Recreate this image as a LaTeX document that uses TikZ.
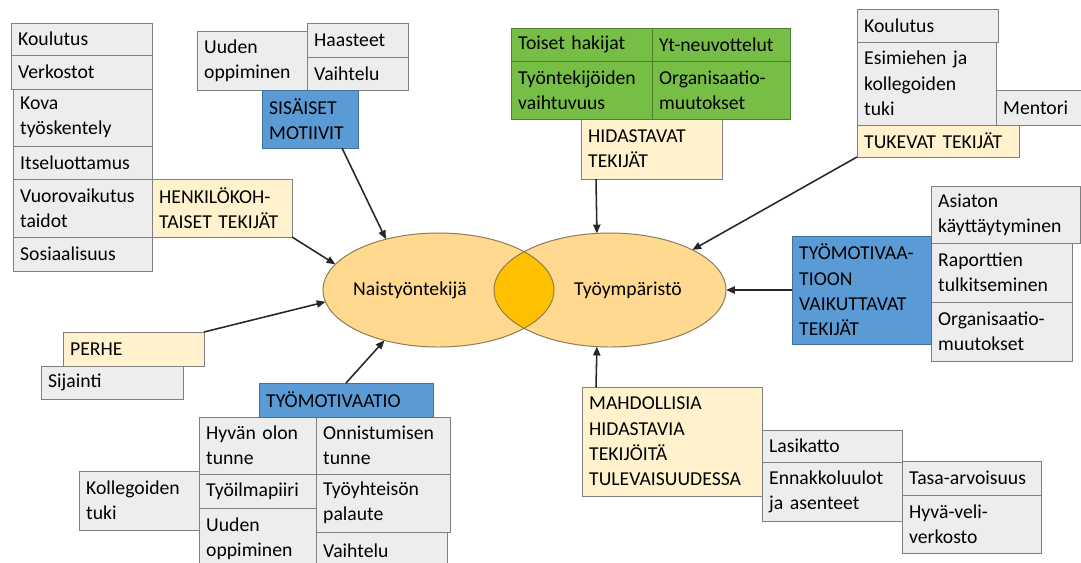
\documentclass[tikz,border=0pt]{standalone}
\usepackage{fontspec}
\setmainfont{Carlito}
\definecolor{harmaaTausta}{HTML}{EDEDED}
\definecolor{reunaHarmaa}{HTML}{7F7F7F}
\definecolor{keltaTausta}{HTML}{FFF2CC}
\definecolor{siniTausta}{HTML}{5B9BD5}
\definecolor{siniReuna}{HTML}{41719C}
\definecolor{vihreaTausta}{HTML}{76BE45}
\definecolor{vihreaReuna}{HTML}{4E7F2E}
\definecolor{soikioTausta}{HTML}{FFD98F}
\definecolor{soikioViiva}{HTML}{8C7B55}
\definecolor{linssiTausta}{HTML}{FFC000}
\usetikzlibrary{
	arrows.meta,
	shapes.geometric
}
\tikzset{
	laatikko/.style={
		anchor=north west,
		align=left,
		inner xsep=0.18cm,
		inner ysep=0.08cm,
		outer sep=0pt,
		line width=0.6pt,
		font=\fontsize{14}{18}\selectfont
	},
	harmaaLaatikko/.style={
		laatikko,
		draw=reunaHarmaa,
		fill=harmaaTausta
	},
	keltaLaatikko/.style={
		laatikko,
		draw=reunaHarmaa,
		fill=keltaTausta
	},
	siniLaatikko/.style={
		laatikko,
		draw=siniReuna,
		fill=siniTausta
	},
	vihreaLaatikko/.style={
		laatikko,
		draw=vihreaReuna,
		fill=vihreaTausta
	},
	soikio/.style={
		ellipse,
		fill=soikioTausta,
		inner sep=0pt,
		outer sep=0pt
	},
	soikioReuna/.style={
		draw=soikioViiva,
		line width=0.7pt
	},
	soikioTeksti/.style={
		font=\fontsize{14}{18}\selectfont
	},
	nuoli/.style={
		-{Triangle[length=2.2mm,width=1.8mm]},
		line width=1.1pt,
		draw=black!85
	}
}

\begin{document}
\begin{tikzpicture}[x=0.025cm, y=-0.025cm]
		\useasboundingbox (0,0) rectangle (1081,562);
		\clip (0,0) rectangle (1081,562);
		% soikiot
		\node[soikio, minimum width=5.775cm, minimum height=2.85cm] (nainen) at (438.5,290) {};
		\node[soikio, minimum width=5.8cm, minimum height=2.85cm] (tyoymp) at (610,290) {};
		\begin{scope}
			\clip (nainen.center) ellipse [x radius=115.5, y radius=57];
			\fill[linssiTausta] (tyoymp.center) ellipse [x radius=116, y radius=57];
		\end{scope}
		\draw[soikioReuna] (nainen.center) ellipse [x radius=115.5, y radius=57];
		\draw[soikioReuna] (tyoymp.center) ellipse [x radius=116, y radius=57];
		\node[soikioTeksti] (naisTeksti) at (410,290) {Naistyöntekijä};
		\node[soikioTeksti] (ympTeksti) at (628,290) {Työympäristö};
		% harmaat laatikot
		\foreach \nimi/\xa/\ya/\xb/\yb/\teksti in {
			koulutusV/11/23/152/55/{Koulutus},
			verkostot/11/55/152/89/{Verkostot},
			kova/13/89/152/146/{Kova\\työskentely},
			itseluottamus/13/146/152/179/{Itseluottamus},
			vuorovaikutus/13/179/152/237/{Vuorovaikutus\\taidot},
			sosiaalisuus/13/237/152/271/{Sosiaalisuus},
			uudenY/197/31/307/90/{Uuden\\oppiminen},
			haasteet/307/23/408/57/{Haasteet},
			vaihteluY/307/57/408/90/{Vaihtelu},
			koulutusO/857/9/998/42/{Koulutus},
			esimies/857/42/996/125/{Esimiehen ja\\kollegoiden\\tuki},
			mentori/996/90/1082/125/{Mentori},
			asiaton/931/186/1080/243/{Asiaton\\käyttäytyminen},
			raportit/931/243/1072/302/{Raporttien\\tulkitseminen},
			organisB/931/302/1072/361/{Organisaatio-\\muutokset},
			sijainti/41/366/183/399/{Sijainti},
			hyvanOlon/199/417/316/474/{Hyvän olon\\tunne},
			onnistuminen/316/417/450/474/{Onnistumisen\\tunne},
			ilmapiiri/199/474/316/508/{Työilmapiiri},
			uudenA/199/508/316/570/{Uuden\\oppiminen},
			palaute/316/474/450/532/{Työyhteisön\\palaute},
			vaihteluA/316/532/447/570/{Vaihtelu},
			kollegat/79/471/199/530/{Kollegoiden\\tuki},
			lasikatto/762/430/902/462/{Lasikatto},
			ennakko/762/462/902/521/{Ennakkoluulot\\ja asenteet},
			tasa/902/461/1041/495/{Tasa-arvoisuus},
			hyvaVeli/902/495/1041/553/{Hyvä-veli-\\verkosto}}{
			\pgfmathsetmacro\lev{(\xb-\xa)*0.025}
			\pgfmathsetmacro\kor{(\yb-\ya)*0.025}
			\pgfmathsetmacro\tlev{\lev-0.36}
			\node[harmaaLaatikko, minimum width=\lev cm, minimum height=\kor cm, text width=\tlev cm] (\nimi) at (\xa,\ya) {\teksti};
		}
		% keltaiset laatikot
		\foreach \nimi/\xa/\ya/\xb/\yb/\teksti in {
			henkilo/152/179/292/237/{HENKILÖKOH-\\TAISET TEKIJÄT},
			hidastavat/581/119/722/179/{HIDASTAVAT\\TEKIJÄT},
			tukevat/857/125/1019/157/{TUKEVAT TEKIJÄT},
			perhe/63/332/204/366/{PERHE},
			mahdollisia/582/387/762/496/{MAHDOLLISIA\\HIDASTAVIA\\TEKIJÖITÄ\\TULEVAISUUDESSA}}{
			\pgfmathsetmacro\lev{(\xb-\xa)*0.025}
			\pgfmathsetmacro\kor{(\yb-\ya)*0.025}
			\pgfmathsetmacro\tlev{\lev-0.36}
			\node[keltaLaatikko, minimum width=\lev cm, minimum height=\kor cm, text width=\tlev cm] (\nimi) at (\xa,\ya) {\teksti};
		}
		% siniset laatikot
		\foreach \nimi/\xa/\ya/\xb/\yb/\teksti in {
			sisaiset/262/90/358/148/{SISÄISET\\MOTIIVIT},
			vaikuttavat/792/236/931/344/{TYÖMOTIVAA-\\TIOON\\VAIKUTTAVAT\\TEKIJÄT},
			tyomotivaatio/259/383/433/417/{TYÖMOTIVAATIO}}{
			\pgfmathsetmacro\lev{(\xb-\xa)*0.025}
			\pgfmathsetmacro\kor{(\yb-\ya)*0.025}
			\pgfmathsetmacro\tlev{\lev-0.36}
			\node[siniLaatikko, minimum width=\lev cm, minimum height=\kor cm, text width=\tlev cm] (\nimi) at (\xa,\ya) {\teksti};
		}
		% vihreat laatikot
		\foreach \nimi/\xa/\ya/\xb/\yb/\teksti in {
			toiset/511/28/652/61/{Toiset hakijat},
			ytNeuvottelut/652/28/790/61/{Yt-neuvottelut},
			vaihtuvuus/511/61/652/119/{Työntekijöiden\\vaihtuvuus},
			organisA/652/61/790/119/{Organisaatio-\\muutokset}}{
			\pgfmathsetmacro\lev{(\xb-\xa)*0.025}
			\pgfmathsetmacro\kor{(\yb-\ya)*0.025}
			\pgfmathsetmacro\tlev{\lev-0.36}
			\node[vihreaLaatikko, minimum width=\lev cm, minimum height=\kor cm, text width=\tlev cm] (\nimi) at (\xa,\ya) {\teksti};
		}
		% nuolet
		\draw[nuoli] (henkilo.south east) -- (nainen.166);
		\draw[nuoli] ([xshift=-0.4cm]sisaiset.south east) -- (nainen.136);
		\draw[nuoli] (perhe.north east) -- (nainen.186);
		\draw[nuoli] (tyomotivaatio.north) -- (nainen.223);
		\draw[nuoli] ([xshift=0.375cm]hidastavat.south west) -- (tyoymp.103);
		\draw[nuoli] (tukevat.south west) -- (tyoymp.26);
		\draw[nuoli] (vaikuttavat.west) -- (tyoymp.east);
		\draw[nuoli] ([xshift=0.35cm]mahdollisia.north west) -- (tyoymp.257);
	\end{tikzpicture}
\end{document}
